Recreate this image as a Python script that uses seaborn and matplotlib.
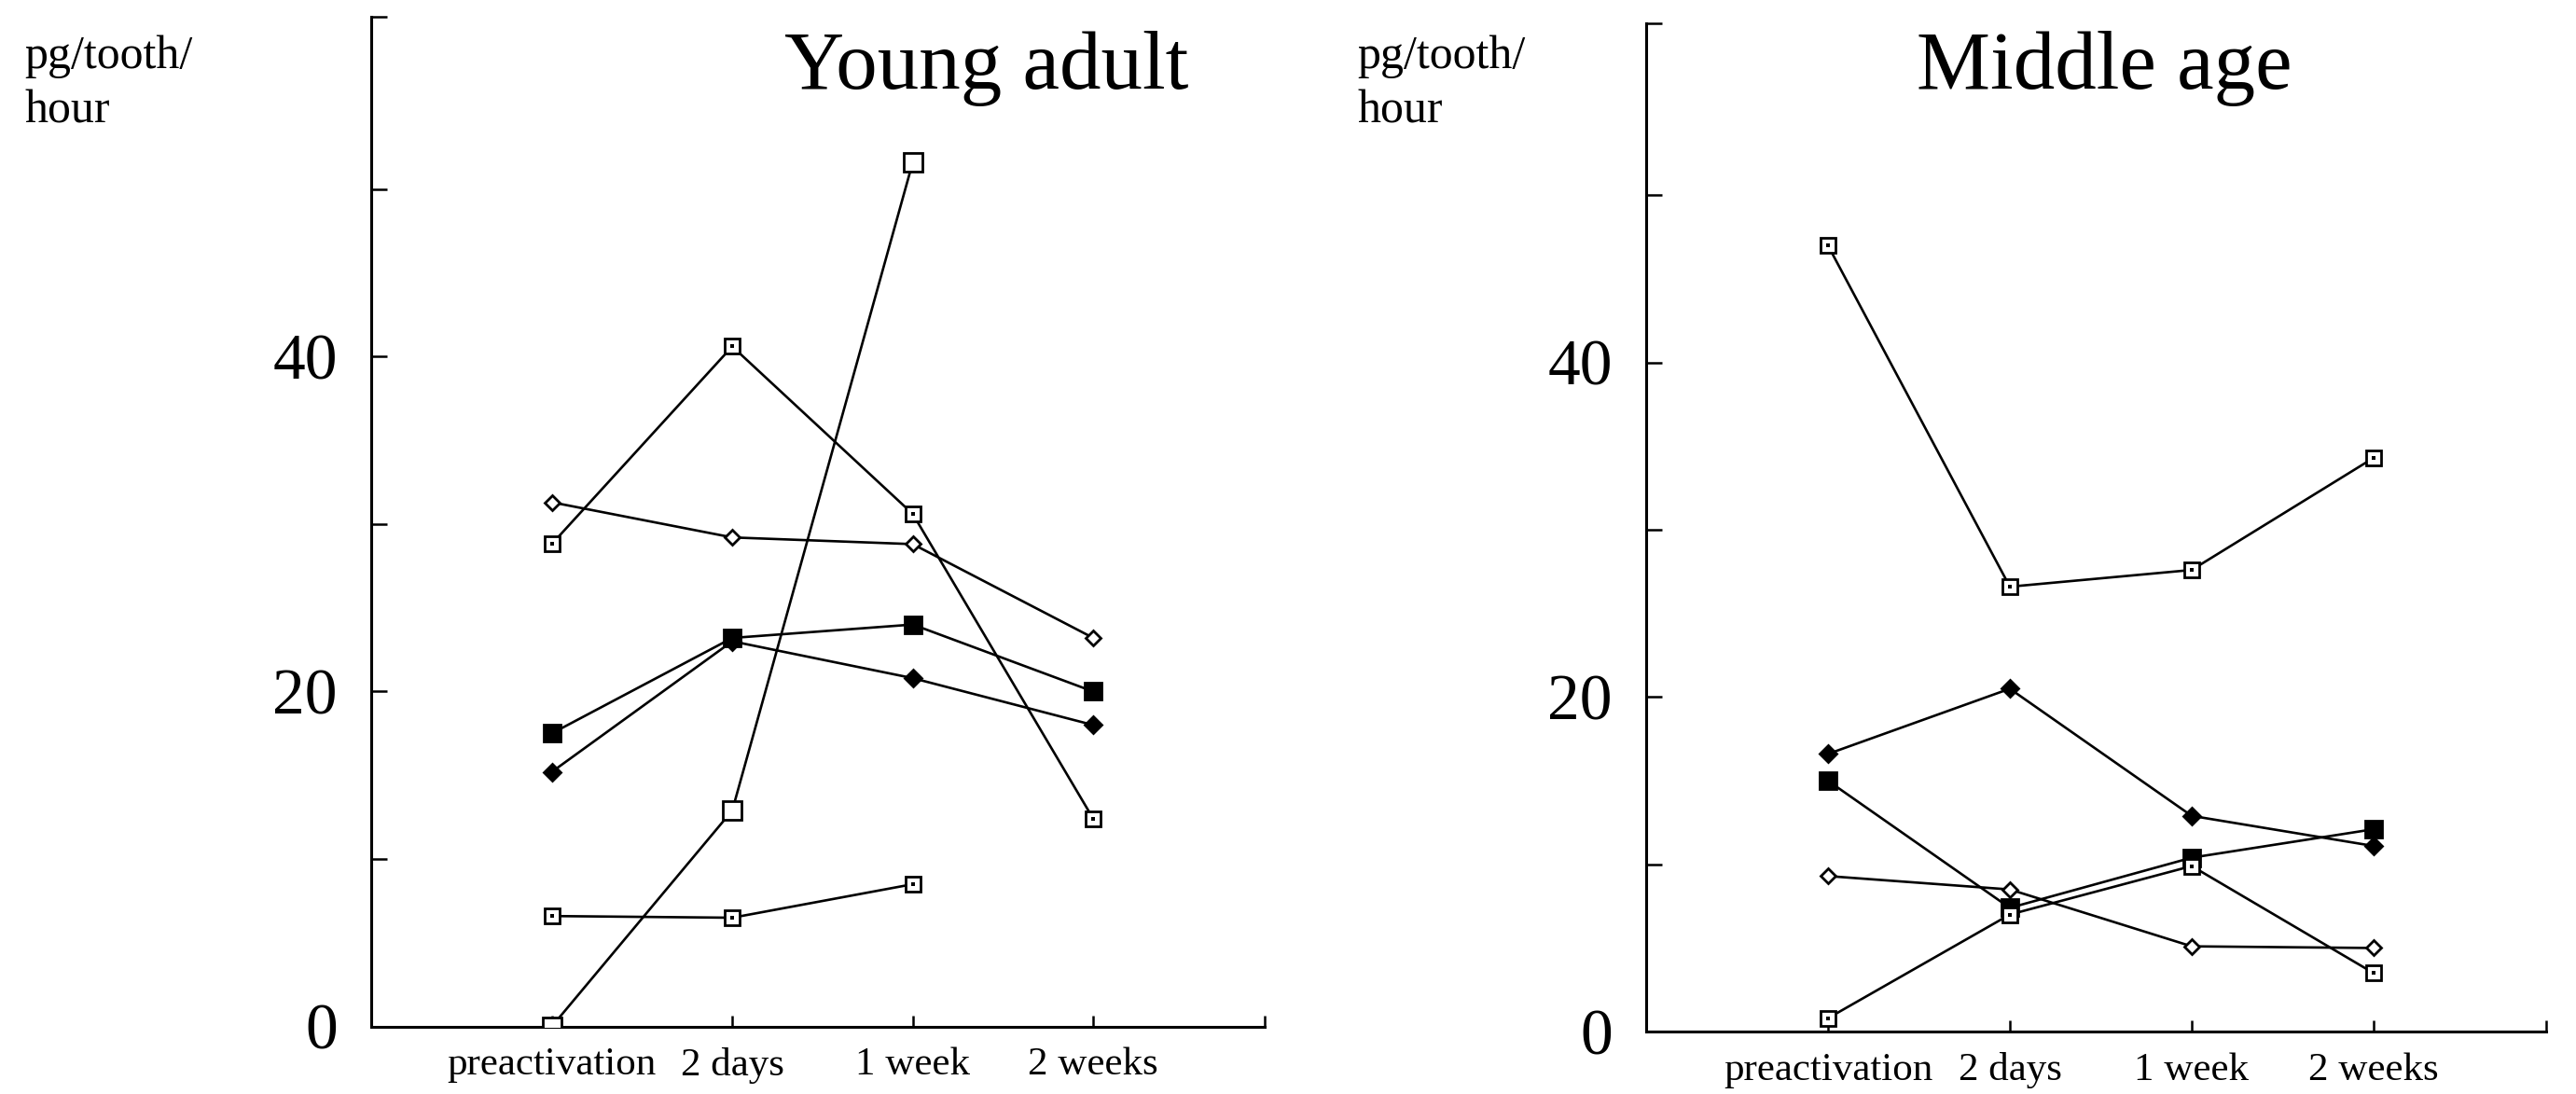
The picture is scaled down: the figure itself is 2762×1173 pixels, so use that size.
import numpy as np
import pandas as pd
import matplotlib
matplotlib.use("Agg")
import matplotlib.pyplot as plt
import seaborn as sns

categories = ["preactivation", "2 days", "1 week", "2 weeks"]
ytick_labels = ["0", "20", "40"]

# Young adult series
ya_open_sq = [0.0, 12.9, 51.6, np.nan]
ya_dot_sq_a = [28.8, 40.6, 30.6, 12.4]
ya_open_dia = [31.3, 29.2, 28.8, 23.2]
ya_fill_sq = [17.5, 23.2, 24.0, 20.0]
ya_fill_dia = [15.2, 23.0, 20.8, 18.0]
ya_dot_sq_b = [6.6, 6.5, 8.5, np.nan]

# Middle age series
ma_dot_sq_a = [47.0, 26.6, 27.6, 34.3]
ma_fill_dia = [16.6, 20.5, 12.9, 11.1]
ma_fill_sq = [15.0, 7.4, 10.4, 12.1]
ma_open_dia = [9.3, 8.5, 5.1, 5.0]
ma_dot_sq_b = [0.8, 7.0, 9.9, 3.5]

sns.set_theme(style="white")
plt.rcParams["font.family"] = ["Liberation Serif", "DejaVu Serif"]
plt.rcParams["text.color"] = "black"
plt.rcParams["xtick.color"] = "black"
plt.rcParams["ytick.color"] = "black"
plt.rcParams["axes.labelcolor"] = "black"

W, H = 2762, 1173
fig = plt.figure(figsize=(W / 100, H / 100), dpi=100)
fig.patch.set_facecolor("white")

ax1 = fig.add_axes([0.1441, 0.0616, 0.491 - 0.1441, 0.985 - 0.0616])
ax2 = fig.add_axes([0.639, 0.057, 0.9885 - 0.639, 0.979 - 0.057])

styles = {
    "open_sq": dict(marker="s", ms=14, mfc="white", dot=False),
    "dot_sq": dict(marker="s", ms=12, mfc="white", dot=True),
    "open_dia": dict(marker="D", ms=8, mfc="white", dot=False),
    "fill_sq": dict(marker="s", ms=13, mfc="black", dot=False),
    "fill_dia": dict(marker="D", ms=9, mfc="black", dot=False),
}

young = [
    ("open_sq", ya_open_sq),
    ("dot_sq", ya_dot_sq_a),
    ("open_dia", ya_open_dia),
    ("fill_sq", ya_fill_sq),
    ("fill_dia", ya_fill_dia),
    ("dot_sq", ya_dot_sq_b),
]
middle = [
    ("dot_sq", ma_dot_sq_a),
    ("fill_dia", ma_fill_dia),
    ("fill_sq", ma_fill_sq),
    ("open_dia", ma_open_dia),
    ("dot_sq", ma_dot_sq_b),
]

xpos = np.arange(len(categories))


def draw(ax, series):
    for kind, vals in series:
        st = styles[kind]
        df = pd.DataFrame({"x": xpos, "y": vals}).dropna()
        sns.lineplot(data=df, x="x", y="y", ax=ax, color="black", lw=1.9,
                     marker=st["marker"], markersize=st["ms"],
                     markerfacecolor=st["mfc"], markeredgecolor="black",
                     markeredgewidth=2.0, estimator=None, sort=False, zorder=3)
        if st["dot"]:
            sns.scatterplot(data=df, x="x", y="y", ax=ax, color="black",
                            s=7, marker="s", linewidth=0, zorder=4)
    ax.set_xlim(-1, 3.95)
    ax.set_ylim(0, 60.3)
    ax.set_xlabel("")
    ax.set_ylabel("")
    for s in ["top", "right"]:
        ax.spines[s].set_visible(False)
    for s in ["left", "bottom"]:
        ax.spines[s].set_color("black")
        ax.spines[s].set_linewidth(2.2)
    ax.set_xticks(xpos)
    ax.set_xticklabels(categories, fontsize=31)
    ax.set_xticks([3.95], minor=True)
    ax.set_yticks([0, 20, 40])
    ax.set_yticklabels(ytick_labels, fontsize=50)
    ax.set_yticks([10, 30, 50, 60.3], minor=True)
    ax.tick_params(axis="y", which="both", direction="in", length=12, width=1.8,
                   color="black", left=True, pad=26)
    ax.tick_params(axis="x", which="both", direction="in", length=9, width=1.8,
                   color="black", bottom=True, pad=16)
    ax.grid(False)
    ax.set_facecolor("white")


draw(ax1, young)
draw(ax2, middle)

fig.text(0.383, 0.937, "Young adult", fontsize=64, ha="center", va="center")
fig.text(0.817, 0.937, "Middle age", fontsize=64, ha="center", va="center")

for xf in (0.0095, 0.527):
    fig.text(xf, 0.968, "pg/tooth/", fontsize=36, ha="left", va="top")
    fig.text(xf, 0.918, "hour", fontsize=36, ha="left", va="top")

fig.savefig("out.png", dpi=100, facecolor="white")
